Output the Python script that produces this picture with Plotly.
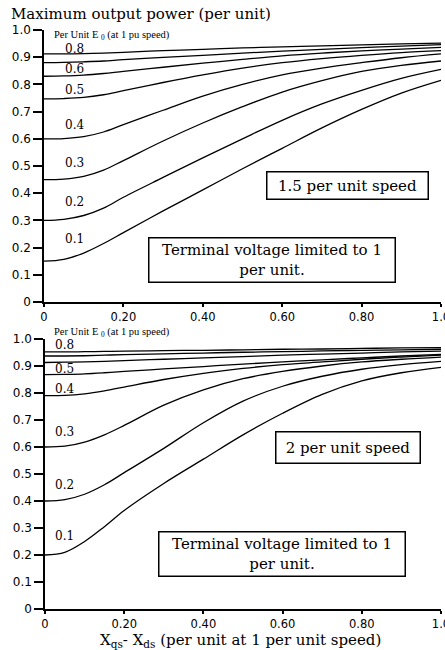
import plotly.graph_objects as go

# ---------------- data ----------------
x_vals = [0.0, 0.05, 0.1, 0.15, 0.2, 0.3, 0.4, 0.5, 0.6, 0.7, 0.8, 0.9, 1.0]
e0_levels = ["0.1", "0.2", "0.3", "0.4", "0.5", "0.6", "0.7", "0.8"]

# 1.5 per unit speed (top panel)
top_curves = {
    "0.1": [0.150, 0.157, 0.180, 0.215, 0.255, 0.335, 0.412, 0.490, 0.565, 0.640, 0.708, 0.768, 0.815],
    "0.2": [0.300, 0.304, 0.318, 0.345, 0.385, 0.458, 0.530, 0.600, 0.668, 0.728, 0.778, 0.822, 0.855],
    "0.3": [0.450, 0.452, 0.462, 0.485, 0.520, 0.592, 0.658, 0.718, 0.772, 0.814, 0.848, 0.870, 0.886],
    "0.4": [0.600, 0.601, 0.608, 0.625, 0.652, 0.705, 0.757, 0.800, 0.835, 0.860, 0.880, 0.898, 0.912],
    "0.5": [0.747, 0.748, 0.752, 0.762, 0.777, 0.807, 0.835, 0.860, 0.880, 0.895, 0.907, 0.917, 0.924],
    "0.6": [0.830, 0.831, 0.834, 0.840, 0.848, 0.863, 0.878, 0.892, 0.905, 0.915, 0.923, 0.930, 0.936],
    "0.7": [0.880, 0.881, 0.883, 0.886, 0.891, 0.899, 0.907, 0.915, 0.922, 0.929, 0.935, 0.941, 0.946],
    "0.8": [0.912, 0.912, 0.913, 0.915, 0.918, 0.924, 0.929, 0.934, 0.938, 0.942, 0.945, 0.949, 0.952],
}

# 2 per unit speed (bottom panel)
bottom_curves = {
    "0.1": [0.200, 0.210, 0.250, 0.305, 0.365, 0.465, 0.555, 0.645, 0.725, 0.795, 0.845, 0.875, 0.895],
    "0.2": [0.400, 0.405, 0.425, 0.460, 0.505, 0.595, 0.690, 0.770, 0.825, 0.862, 0.888, 0.905, 0.917],
    "0.3": [0.600, 0.603, 0.618, 0.645, 0.680, 0.755, 0.812, 0.853, 0.880, 0.900, 0.915, 0.925, 0.933],
    "0.4": [0.790, 0.791, 0.797, 0.808, 0.822, 0.850, 0.873, 0.891, 0.905, 0.915, 0.925, 0.933, 0.940],
    "0.5": [0.868, 0.869, 0.871, 0.875, 0.880, 0.889, 0.898, 0.907, 0.915, 0.923, 0.930, 0.937, 0.943],
    "0.6": [0.913, 0.914, 0.915, 0.917, 0.920, 0.925, 0.930, 0.935, 0.940, 0.944, 0.948, 0.952, 0.955],
    "0.7": [0.937, 0.937, 0.938, 0.940, 0.942, 0.945, 0.948, 0.951, 0.953, 0.956, 0.958, 0.960, 0.962],
    "0.8": [0.952, 0.952, 0.953, 0.954, 0.955, 0.957, 0.958, 0.960, 0.962, 0.963, 0.965, 0.967, 0.968],
}

# curve labels (text, y position in data units)
top_label_text = ["0.8", "0.6", "0.5", "0.4", "0.3", "0.2", "0.1"]
top_label_y = [0.930, 0.857, 0.779, 0.651, 0.511, 0.368, 0.232]
bottom_label_text = ["0.8", "0.5", "0.4", "0.3", "0.2", "0.1"]
bottom_label_y = [0.978, 0.888, 0.814, 0.657, 0.459, 0.270]

x_tick_vals = [0, 0.2, 0.4, 0.6, 0.8, 1.0]
x_tick_text = ["0", "0.20", "0.40", "0.60", "0.80", "1.0"]
y_tick_vals = [0, 0.1, 0.2, 0.3, 0.4, 0.5, 0.6, 0.7, 0.8, 0.9, 1.0]
y_tick_text = ["0", "0.1", "0.2", "0.3", "0.4", "0.5", "0.6", "0.7", "0.8", "0.9", "1.0"]

# ---------------- figure ----------------
W, H = 445, 650
SERIF = "DejaVu Serif"
SANS = "DejaVu Sans"


def px(x):
    return x / W


def py(y):
    return 1 - y / H


fig = go.Figure()

for lvl in e0_levels:
    fig.add_trace(go.Scatter(x=x_vals, y=top_curves[lvl], mode="lines",
                             line=dict(color="black", width=1.3, shape="spline", smoothing=1.0),
                             xaxis="x", yaxis="y", showlegend=False, hoverinfo="skip"))
    fig.add_trace(go.Scatter(x=x_vals, y=bottom_curves[lvl], mode="lines",
                             line=dict(color="black", width=1.3, shape="spline", smoothing=1.0),
                             xaxis="x2", yaxis="y2", showlegend=False, hoverinfo="skip"))

axis_common = dict(range=[0, 1], showgrid=False, zeroline=False, showline=True, automargin=False,
                   ticklabeloverflow="allow",
                   linecolor="black", linewidth=1.5, ticks="outside", tickcolor="black",
                   tickwidth=1.5)
x_font = dict(family=SANS, size=11.5, color="black")
y_font = dict(family=SANS, size=12, color="black")

fig.update_layout(
    template="none",
    width=W, height=H,
    margin=dict(l=0, r=0, t=0, b=0, pad=0),
    paper_bgcolor="white", plot_bgcolor="white",
    xaxis=dict(domain=[44 / W, 441 / W], anchor="y", tickvals=x_tick_vals, ticktext=x_tick_text,
               ticklen=3, tickfont=x_font, **axis_common),
    yaxis=dict(domain=[1 - 302 / H, 1 - 30 / H], anchor="x", tickvals=y_tick_vals, ticktext=y_tick_text,
               ticklen=9, tickfont=y_font, **axis_common),
    xaxis2=dict(domain=[45 / W, 441 / W], anchor="y2", tickvals=x_tick_vals, ticktext=x_tick_text,
                ticklen=3, tickfont=x_font, **axis_common),
    yaxis2=dict(domain=[1 - 609 / H, 1 - 339 / H], anchor="x2", tickvals=y_tick_vals, ticktext=y_tick_text,
                ticklen=9, tickfont=y_font, **axis_common),
)

ann = []
ann.append(dict(text="Maximum output power (per unit)", x=px(9), y=py(14), xref="paper", yref="paper",
                xanchor="left", yanchor="middle", showarrow=False,
                font=dict(family=SERIF, size=15, color="black")))
for yy in (36, 332):
    ann.append(dict(text="Per Unit E <sub>0</sub> (at 1 pu speed)", x=px(52), y=py(yy), xref="paper", yref="paper",
                    xanchor="left", yanchor="middle", showarrow=False,
                    font=dict(family="Liberation Serif", size=10.5, color="black")))
for t, yv in zip(top_label_text, top_label_y):
    ann.append(dict(text=t, x=0.078, y=yv, xref="x", yref="y", xanchor="center", yanchor="middle",
                    showarrow=False, font=dict(family=SERIF, size=12, color="black")))
for t, yv in zip(bottom_label_text, bottom_label_y):
    ann.append(dict(text=t, x=0.048, y=yv, xref="x2", yref="y2", xanchor="center", yanchor="middle",
                    showarrow=False, font=dict(family=SERIF, size=12, color="black")))


def box(text, x0, y0, x1, y1):
    return dict(text=text, x=px((x0 + x1) / 2), y=py((y0 + y1) / 2), xref="paper", yref="paper",
                xanchor="center", yanchor="middle", showarrow=False,
                width=x1 - x0 - 2, height=y1 - y0 - 2, borderpad=0,
                bordercolor="black", borderwidth=1.5, bgcolor="white", align="center",
                font=dict(family=SERIF, size=15, color="black"))


ann.append(box("1.5 per unit speed", 266, 171, 428, 199))
ann.append(box("Terminal voltage limited to 1<br>per unit.", 148, 237, 395, 282))
ann.append(box("2 per unit speed", 275, 431, 420, 463))
ann.append(box("Terminal voltage limited to 1<br>per unit.", 158, 531, 405, 576))

ann.append(dict(text="X<sub>qs</sub>- X<sub>ds</sub> (per unit at 1 per unit speed)", x=px(240), y=py(640),
                xref="paper", yref="paper", xanchor="center", yanchor="middle", showarrow=False,
                font=dict(family=SERIF, size=15, color="black")))

fig.update_layout(annotations=ann)

fig.write_html("out.html", config={"displayModeBar": False},
               post_script="document.body.style.margin='0';document.body.style.overflow='hidden';")
